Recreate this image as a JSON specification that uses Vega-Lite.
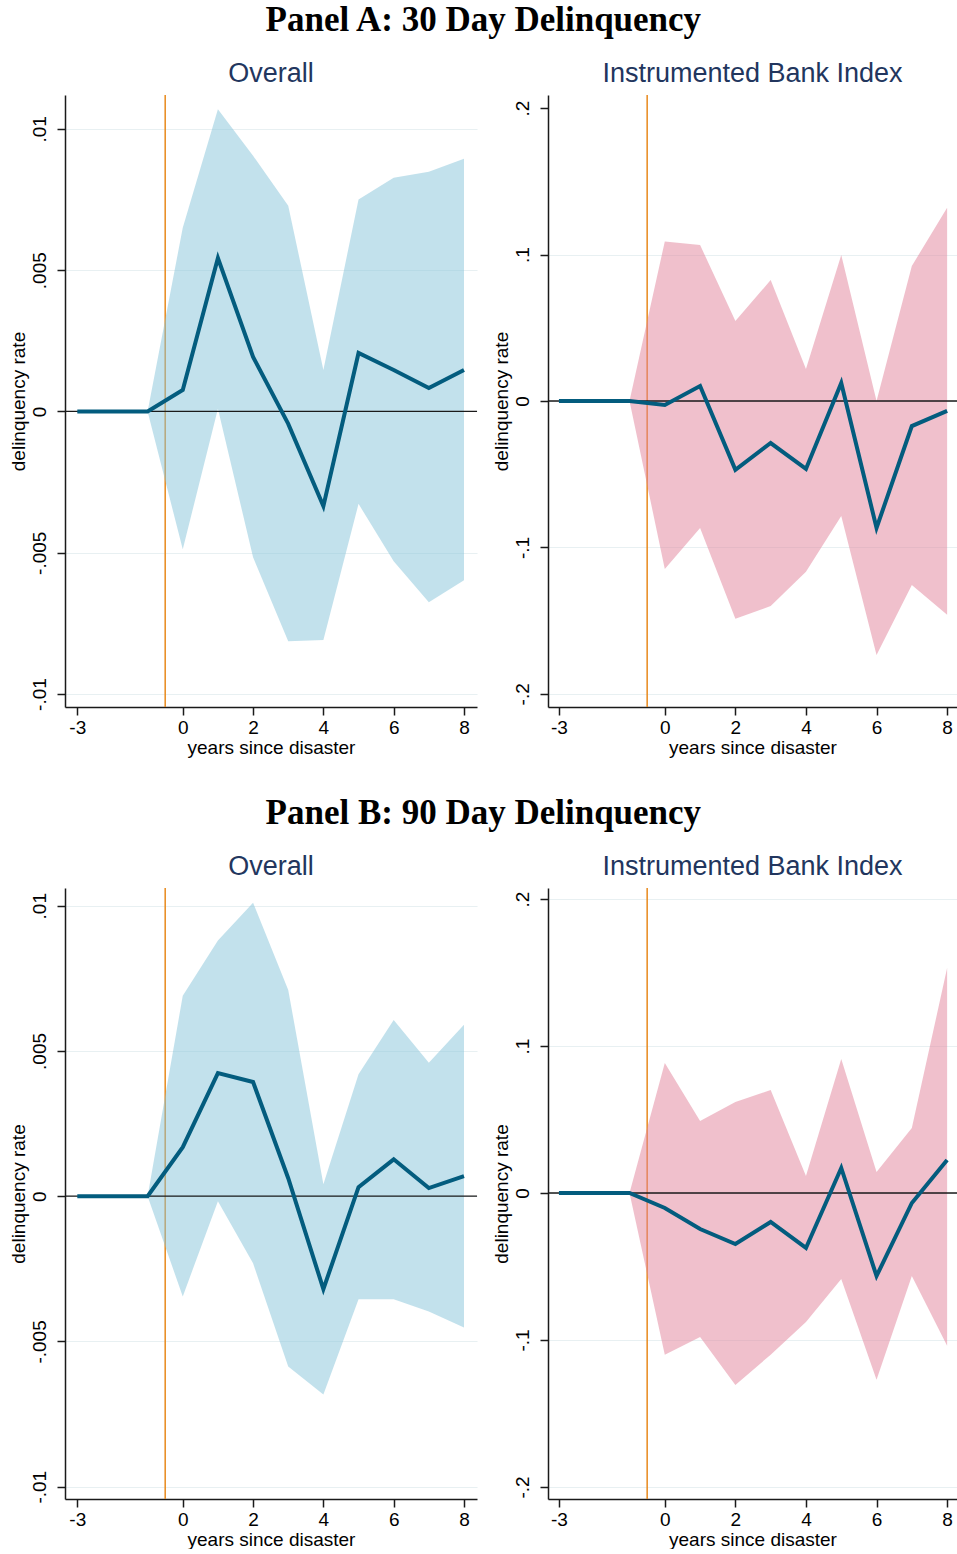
{
  "$schema": "https://vega.github.io/schema/vega-lite/v6.json",
  "padding": {"left": 9, "top": 3, "right": 0, "bottom": 0},
  "datasets": {
    "est": [
      {"panel": "A", "measure": "Overall", "year": -3, "est": 0, "lo": 0, "hi": 0},
      {"panel": "A", "measure": "Overall", "year": -2, "est": 0, "lo": 0, "hi": 0},
      {"panel": "A", "measure": "Overall", "year": -1, "est": 0, "lo": 0, "hi": 0},
      {"panel": "A", "measure": "Overall", "year": 0, "est": 0.00076, "lo": -0.00488, "hi": 0.0065},
      {"panel": "A", "measure": "Overall", "year": 1, "est": 0.00543, "lo": 0.0001, "hi": 0.0107},
      {"panel": "A", "measure": "Overall", "year": 2, "est": 0.00193, "lo": -0.00516, "hi": 0.00905},
      {"panel": "A", "measure": "Overall", "year": 3, "est": -0.00044, "lo": -0.00813, "hi": 0.00728},
      {"panel": "A", "measure": "Overall", "year": 4, "est": -0.00335, "lo": -0.00809, "hi": 0.00147},
      {"panel": "A", "measure": "Overall", "year": 5, "est": 0.00207, "lo": -0.00327, "hi": 0.0075},
      {"panel": "A", "measure": "Overall", "year": 6, "est": 0.00147, "lo": -0.0053, "hi": 0.00827},
      {"panel": "A", "measure": "Overall", "year": 7, "est": 0.00083, "lo": -0.00675, "hi": 0.00848},
      {"panel": "A", "measure": "Overall", "year": 8, "est": 0.00147, "lo": -0.00597, "hi": 0.00894},
      {"panel": "A", "measure": "Bank", "year": -3, "est": 0, "lo": 0, "hi": 0},
      {"panel": "A", "measure": "Bank", "year": -2, "est": 0, "lo": 0, "hi": 0},
      {"panel": "A", "measure": "Bank", "year": -1, "est": 0, "lo": 0, "hi": 0},
      {"panel": "A", "measure": "Bank", "year": 0, "est": -0.0027, "lo": -0.1147, "hi": 0.109},
      {"panel": "A", "measure": "Bank", "year": 1, "est": 0.0102, "lo": -0.0867, "hi": 0.1065},
      {"panel": "A", "measure": "Bank", "year": 2, "est": -0.047, "lo": -0.1488, "hi": 0.0546},
      {"panel": "A", "measure": "Bank", "year": 3, "est": -0.0287, "lo": -0.14, "hi": 0.0826},
      {"panel": "A", "measure": "Bank", "year": 4, "est": -0.0464, "lo": -0.1167, "hi": 0.0218},
      {"panel": "A", "measure": "Bank", "year": 5, "est": 0.0123, "lo": -0.0785, "hi": 0.0997},
      {"panel": "A", "measure": "Bank", "year": 6, "est": -0.0867, "lo": -0.1734, "hi": 0},
      {"panel": "A", "measure": "Bank", "year": 7, "est": -0.0171, "lo": -0.1256, "hi": 0.0922},
      {"panel": "A", "measure": "Bank", "year": 8, "est": -0.0068, "lo": -0.146, "hi": 0.132},
      {"panel": "B", "measure": "Overall", "year": -3, "est": 0, "lo": 0, "hi": 0},
      {"panel": "B", "measure": "Overall", "year": -2, "est": 0, "lo": 0, "hi": 0},
      {"panel": "B", "measure": "Overall", "year": -1, "est": 0, "lo": 0, "hi": 0},
      {"panel": "B", "measure": "Overall", "year": 0, "est": 0.00169, "lo": -0.00345, "hi": 0.0069},
      {"panel": "B", "measure": "Overall", "year": 1, "est": 0.00424, "lo": -0.00017, "hi": 0.0088},
      {"panel": "B", "measure": "Overall", "year": 2, "est": 0.00393, "lo": -0.00231, "hi": 0.0101},
      {"panel": "B", "measure": "Overall", "year": 3, "est": 0.00062, "lo": -0.00586, "hi": 0.0071},
      {"panel": "B", "measure": "Overall", "year": 4, "est": -0.0032, "lo": -0.00683, "hi": 0.00041},
      {"panel": "B", "measure": "Overall", "year": 5, "est": 0.00031, "lo": -0.00355, "hi": 0.0042},
      {"panel": "B", "measure": "Overall", "year": 6, "est": 0.00127, "lo": -0.00355, "hi": 0.00607},
      {"panel": "B", "measure": "Overall", "year": 7, "est": 0.00028, "lo": -0.00397, "hi": 0.00459},
      {"panel": "B", "measure": "Overall", "year": 8, "est": 0.00069, "lo": -0.00452, "hi": 0.0059},
      {"panel": "B", "measure": "Bank", "year": -3, "est": 0, "lo": 0, "hi": 0},
      {"panel": "B", "measure": "Bank", "year": -2, "est": 0, "lo": 0, "hi": 0},
      {"panel": "B", "measure": "Bank", "year": -1, "est": 0, "lo": 0, "hi": 0},
      {"panel": "B", "measure": "Bank", "year": 0, "est": -0.0102, "lo": -0.11, "hi": 0.0884},
      {"panel": "B", "measure": "Bank", "year": 1, "est": -0.0245, "lo": -0.098, "hi": 0.049},
      {"panel": "B", "measure": "Bank", "year": 2, "est": -0.0347, "lo": -0.1306, "hi": 0.0619},
      {"panel": "B", "measure": "Bank", "year": 3, "est": -0.0197, "lo": -0.11, "hi": 0.07},
      {"panel": "B", "measure": "Bank", "year": 4, "est": -0.0374, "lo": -0.0878, "hi": 0.0116},
      {"panel": "B", "measure": "Bank", "year": 5, "est": 0.017, "lo": -0.0585, "hi": 0.0912},
      {"panel": "B", "measure": "Bank", "year": 6, "est": -0.0565, "lo": -0.127, "hi": 0.0143},
      {"panel": "B", "measure": "Bank", "year": 7, "est": -0.0068, "lo": -0.0565, "hi": 0.0442},
      {"panel": "B", "measure": "Bank", "year": 8, "est": 0.0224, "lo": -0.104, "hi": 0.153}
    ]
  },
  "data": {"name": "est"},
  "spacing": 39,
  "vconcat": [
    {
      "title": {"text": "Panel A: 30 Day Delinquency", "font": "Liberation Serif", "fontSize": 35, "fontWeight": "bold", "color": "#000000", "offset": 22, "anchor": "middle"},
      "spacing": 71,
      "bounds": "flush",
      "hconcat": [
        {
          "width": 412, "height": 612,
          "title": "Overall",
          "layer": [
            {
              "data": {"values": [{"year": -0.5}]},
              "mark": {"type": "rule", "color": "#e8891c", "strokeWidth": 1.5},
              "encoding": {"x": {"field": "year", "type": "quantitative", "scale": {"domain": [-3.35, 8.37], "nice": false, "zero": false}, "axis": {"values": [-3, 0, 2, 4, 6, 8], "title": "years since disaster"}}}
            },
            {
              "transform": [{"filter": "datum.panel == 'A' && datum.measure == 'Overall'"}],
              "mark": {"type": "area", "color": "#85c3d9", "opacity": 0.5},
              "encoding": {
                "x": {"field": "year", "type": "quantitative"},
                "y": {"field": "lo", "type": "quantitative", "scale": {"domain": [-0.01046, 0.0112], "nice": false, "zero": false}, "axis": {"values": [-0.01, -0.005, 0, 0.005, 0.01], "title": "delinquency rate"}},
                "y2": {"field": "hi"}
              }
            },
            {
              "data": {"values": [{"level": 0}]},
              "mark": {"type": "rule", "color": "#1a1a1a", "strokeWidth": 1.3},
              "encoding": {"y": {"field": "level", "type": "quantitative"}}
            },
            {
              "transform": [{"filter": "datum.panel == 'A' && datum.measure == 'Overall'"}],
              "mark": {"type": "line", "color": "#035c7e", "strokeWidth": 4},
              "encoding": {
                "x": {"field": "year", "type": "quantitative"},
                "y": {"field": "est", "type": "quantitative"}
              }
            }
          ]
        },
        {
          "width": 409, "height": 612,
          "title": "Instrumented Bank Index",
          "layer": [
            {
              "data": {"values": [{"year": -0.5}]},
              "mark": {"type": "rule", "color": "#e8891c", "strokeWidth": 1.5},
              "encoding": {"x": {"field": "year", "type": "quantitative", "scale": {"domain": [-3.31, 8.28], "nice": false, "zero": false}, "axis": {"values": [-3, 0, 2, 4, 6, 8], "title": "years since disaster"}}}
            },
            {
              "transform": [{"filter": "datum.panel == 'A' && datum.measure == 'Bank'"}],
              "mark": {"type": "area", "color": "#e18199", "opacity": 0.5},
              "encoding": {
                "x": {"field": "year", "type": "quantitative"},
                "y": {"field": "lo", "type": "quantitative", "scale": {"domain": [-0.209, 0.209], "nice": false, "zero": false}, "axis": {"values": [-0.2, -0.1, 0, 0.1, 0.2], "title": "delinquency rate", "gridOpacity": {"condition": {"test": "datum.value > 0.15", "value": 0}, "value": 1}}},
                "y2": {"field": "hi"}
              }
            },
            {
              "data": {"values": [{"level": 0}]},
              "mark": {"type": "rule", "color": "#1a1a1a", "strokeWidth": 1.3},
              "encoding": {"y": {"field": "level", "type": "quantitative"}}
            },
            {
              "transform": [{"filter": "datum.panel == 'A' && datum.measure == 'Bank'"}],
              "mark": {"type": "line", "color": "#035c7e", "strokeWidth": 4},
              "encoding": {
                "x": {"field": "year", "type": "quantitative"},
                "y": {"field": "est", "type": "quantitative"}
              }
            }
          ]
        }
      ]
    },
    {
      "title": {"text": "Panel B: 90 Day Delinquency", "font": "Liberation Serif", "fontSize": 35, "fontWeight": "bold", "color": "#000000", "offset": 22, "anchor": "middle"},
      "spacing": 71,
      "bounds": "flush",
      "hconcat": [
        {
          "width": 412, "height": 611,
          "title": "Overall",
          "layer": [
            {
              "data": {"values": [{"year": -0.5}]},
              "mark": {"type": "rule", "color": "#e8891c", "strokeWidth": 1.5},
              "encoding": {"x": {"field": "year", "type": "quantitative", "scale": {"domain": [-3.35, 8.37], "nice": false, "zero": false}, "axis": {"values": [-3, 0, 2, 4, 6, 8], "title": "years since disaster"}}}
            },
            {
              "transform": [{"filter": "datum.panel == 'B' && datum.measure == 'Overall'"}],
              "mark": {"type": "area", "color": "#85c3d9", "opacity": 0.5},
              "encoding": {
                "x": {"field": "year", "type": "quantitative"},
                "y": {"field": "lo", "type": "quantitative", "scale": {"domain": [-0.010424, 0.01061], "nice": false, "zero": false}, "axis": {"values": [-0.01, -0.005, 0, 0.005, 0.01], "title": "delinquency rate"}},
                "y2": {"field": "hi"}
              }
            },
            {
              "data": {"values": [{"level": 0}]},
              "mark": {"type": "rule", "color": "#1a1a1a", "strokeWidth": 1.3},
              "encoding": {"y": {"field": "level", "type": "quantitative"}}
            },
            {
              "transform": [{"filter": "datum.panel == 'B' && datum.measure == 'Overall'"}],
              "mark": {"type": "line", "color": "#035c7e", "strokeWidth": 4},
              "encoding": {
                "x": {"field": "year", "type": "quantitative"},
                "y": {"field": "est", "type": "quantitative"}
              }
            }
          ]
        },
        {
          "width": 409, "height": 611,
          "title": "Instrumented Bank Index",
          "layer": [
            {
              "data": {"values": [{"year": -0.5}]},
              "mark": {"type": "rule", "color": "#e8891c", "strokeWidth": 1.5},
              "encoding": {"x": {"field": "year", "type": "quantitative", "scale": {"domain": [-3.31, 8.28], "nice": false, "zero": false}, "axis": {"values": [-3, 0, 2, 4, 6, 8], "title": "years since disaster"}}}
            },
            {
              "transform": [{"filter": "datum.panel == 'B' && datum.measure == 'Bank'"}],
              "mark": {"type": "area", "color": "#e18199", "opacity": 0.5},
              "encoding": {
                "x": {"field": "year", "type": "quantitative"},
                "y": {"field": "lo", "type": "quantitative", "scale": {"domain": [-0.2082, 0.2075], "nice": false, "zero": false}, "axis": {"values": [-0.2, -0.1, 0, 0.1, 0.2], "title": "delinquency rate"}},
                "y2": {"field": "hi"}
              }
            },
            {
              "data": {"values": [{"level": 0}]},
              "mark": {"type": "rule", "color": "#1a1a1a", "strokeWidth": 1.3},
              "encoding": {"y": {"field": "level", "type": "quantitative"}}
            },
            {
              "transform": [{"filter": "datum.panel == 'B' && datum.measure == 'Bank'"}],
              "mark": {"type": "line", "color": "#035c7e", "strokeWidth": 4},
              "encoding": {
                "x": {"field": "year", "type": "quantitative"},
                "y": {"field": "est", "type": "quantitative"}
              }
            }
          ]
        }
      ]
    }
  ],
  "config": {
    "view": {"stroke": null},
    "font": "Liberation Sans",
    "axis": {
      "labelFont": "Liberation Sans", "titleFont": "Liberation Sans",
      "labelFontSize": 19, "titleFontSize": 19, "titleFontWeight": "normal",
      "labelColor": "#000000", "titleColor": "#000000",
      "domainColor": "#1a1a1a", "domainWidth": 1.5,
      "tickColor": "#1a1a1a", "tickWidth": 1.5, "tickSize": 8,
      "gridColor": "#e8f0f2", "gridWidth": 1.2
    },
    "axisX": {"grid": false, "labelPadding": 3, "titlePadding": 1, "labelFlush": false, "labelExpr": "(datum.value < 0 ? '-' : '') + format(abs(datum.value), 'd')"},
    "axisY": {"grid": true, "labelAngle": 270, "labelAlign": "center", "labelBaseline": "bottom", "labelPadding": 8, "titlePadding": 2, "labelExpr": "datum.value == 0 ? '0' : (datum.value < 0 ? '-' : '') + replace(format(abs(datum.value), '.3~f'), '0.', '.')"},
    "title": {"font": "Liberation Sans", "fontSize": 27, "fontWeight": "normal", "color": "#22365e", "offset": 6}
  }
}
